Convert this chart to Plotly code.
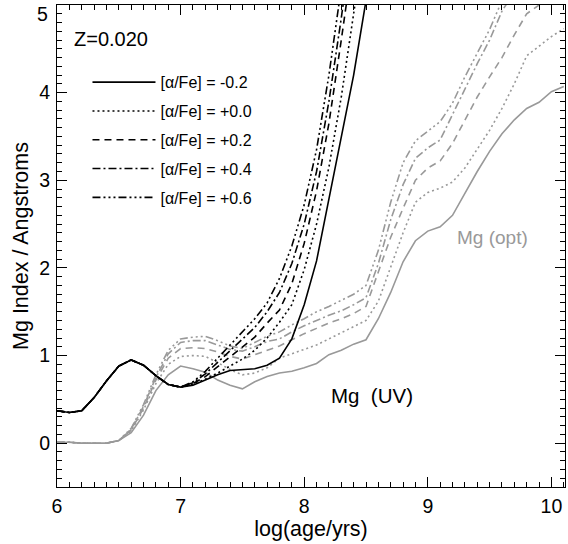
import plotly.graph_objects as go

log_age = [6.0, 6.1, 6.2, 6.3, 6.4, 6.5, 6.6, 6.7, 6.8, 6.9,
           7.0, 7.1, 7.2, 7.3, 7.4, 7.5, 7.6, 7.7, 7.8, 7.9,
           8.0, 8.1, 8.2, 8.3, 8.4, 8.5, 8.6, 8.7, 8.8, 8.9,
           9.0, 9.1, 9.2, 9.3, 9.4, 9.5, 9.6, 9.7, 9.8, 9.9,
           10.0, 10.1]

alpha_labels = ["[α/Fe] = -0.2", "[α/Fe] = +0.0", "[α/Fe] = +0.2",
                "[α/Fe] = +0.4", "[α/Fe] = +0.6"]

y_tick_vals = [0, 1, 2, 3, 4, 5]
y_tick_text = ["0", "1", "2", "3", "4", ""]
top_y_label = "5"

N = None
# Mg (UV) index, black curves
uv_m02 = [0.37, 0.35, 0.37, 0.52, 0.71, 0.88, 0.95, 0.89, 0.77, 0.67,
          0.64, 0.66, 0.72, 0.78, 0.83, 0.84, 0.85, 0.89, 0.97, 1.19,
          1.58, 2.08, 2.78, 3.47, 4.20, 5.05, 5.90, N, N, N,
          N, N, N, N, N, N, N, N, N, N, N, N]
uv_p00 = [0.37, 0.35, 0.37, 0.52, 0.71, 0.88, 0.95, 0.89, 0.77, 0.67,
          0.64, 0.67, 0.73, 0.80, 0.88, 0.96, 1.06, 1.20, 1.38, 1.58,
          1.98, 2.50, 3.15, 3.95, 4.90, 5.90, N, N, N, N,
          N, N, N, N, N, N, N, N, N, N, N, N]
uv_p02 = [0.37, 0.35, 0.37, 0.52, 0.71, 0.88, 0.95, 0.89, 0.77, 0.67,
          0.64, 0.68, 0.76, 0.87, 0.98, 1.09, 1.21, 1.37, 1.52, 1.82,
          2.28, 2.88, 3.65, 4.60, 5.60, N, N, N, N, N,
          N, N, N, N, N, N, N, N, N, N, N, N]
uv_p04 = [0.37, 0.35, 0.37, 0.52, 0.71, 0.88, 0.95, 0.89, 0.77, 0.67,
          0.64, 0.69, 0.79, 0.92, 1.05, 1.18, 1.32, 1.50, 1.72, 2.05,
          2.50, 3.10, 3.90, 4.85, 5.90, N, N, N, N, N,
          N, N, N, N, N, N, N, N, N, N, N, N]
uv_p06 = [0.37, 0.35, 0.37, 0.52, 0.71, 0.88, 0.95, 0.89, 0.77, 0.67,
          0.64, 0.70, 0.82, 0.97, 1.12, 1.26, 1.42, 1.60, 1.88, 2.25,
          2.72, 3.35, 4.20, 5.20, N, N, N, N, N, N,
          N, N, N, N, N, N, N, N, N, N, N, N]

# Mg (opt) index, grey curves
opt_m02 = [0.01, 0.01, 0.00, 0.00, 0.00, 0.03, 0.12, 0.32, 0.60, 0.78,
           0.88, 0.85, 0.81, 0.72, 0.66, 0.62, 0.70, 0.76, 0.80, 0.82,
           0.86, 0.91, 1.01, 1.06, 1.13, 1.18, 1.42, 1.72, 2.07, 2.31,
           2.42, 2.47, 2.60, 2.85, 3.10, 3.33, 3.53, 3.69, 3.82, 3.89,
           4.01, 4.07]
opt_p00 = [0.01, 0.01, 0.00, 0.00, 0.00, 0.03, 0.14, 0.38, 0.68, 0.90,
           0.99, 1.00, 0.99, 0.92, 0.84, 0.78, 0.80, 0.86, 0.97, 1.02,
           1.07, 1.12, 1.19, 1.26, 1.33, 1.40, 1.62, 2.00, 2.40, 2.75,
           2.86, 2.91, 2.98, 3.14, 3.36, 3.57, 3.82, 4.10, 4.42, 4.53,
           4.64, 4.73]
opt_p02 = [0.01, 0.01, 0.00, 0.00, 0.00, 0.03, 0.15, 0.40, 0.72, 0.97,
           1.08, 1.09, 1.08, 1.04, 0.99, 0.96, 1.01, 1.06, 1.11, 1.18,
           1.25, 1.31, 1.37, 1.42, 1.48, 1.56, 1.95, 2.35, 2.68, 3.00,
           3.14, 3.22, 3.42, 3.68, 3.95, 4.18, 4.40, 4.66, 4.90, 5.00,
           5.08, 5.15]
opt_p04 = [0.01, 0.01, 0.00, 0.00, 0.00, 0.03, 0.16, 0.42, 0.75, 1.02,
           1.15, 1.17, 1.17, 1.12, 1.07, 1.05, 1.10, 1.16, 1.19, 1.27,
           1.34, 1.40, 1.46, 1.51, 1.58, 1.66, 2.05, 2.55, 2.95, 3.25,
           3.37, 3.46, 3.75, 4.05, 4.33, 4.60, 4.93, 5.15, 5.30, N,
           N, N]
opt_p06 = [0.01, 0.01, 0.00, 0.00, 0.00, 0.03, 0.17, 0.44, 0.78, 1.06,
           1.19, 1.21, 1.22, 1.17, 1.11, 1.08, 1.15, 1.22, 1.27, 1.35,
           1.42, 1.50, 1.56, 1.63, 1.70, 1.80, 2.20, 2.75, 3.20, 3.45,
           3.56, 3.67, 3.88, 4.18, 4.45, 4.72, 5.05, 5.30, N, N,
           N, N]

uv_series = [uv_m02, uv_p00, uv_p02, uv_p04, uv_p06]
opt_series = [opt_m02, opt_p00, opt_p02, opt_p04, opt_p06]
dashes = ["solid", "2px,3px", "7px,5px", "8px,3px,2px,3px",
          "8px,3px,2px,3px,2px,3px,2px,3px"]

GREY = "#999999"
fig = go.Figure()

for i, ys in enumerate(opt_series):
    fig.add_trace(go.Scatter(x=log_age, y=ys, mode="lines",
                             line=dict(color=GREY, width=1.6, dash=dashes[i]),
                             showlegend=False, hoverinfo="skip"))

for i, ys in enumerate(uv_series):
    fig.add_trace(go.Scatter(x=log_age, y=ys, mode="lines", name=alpha_labels[i],
                             legendgroup="g%d" % i,
                             line=dict(color="black", width=1.6, dash=dashes[i])))

FONT = "Liberation Sans, Arial, Helvetica, sans-serif"
TICK_SIZE = 19.5

axis_common = dict(
    showline=True, linecolor="black", linewidth=1, mirror="ticks",
    ticks="inside", ticklen=10, tickwidth=1, tickcolor="black",
    showgrid=False, zeroline=False,
    tickfont=dict(family=FONT, size=TICK_SIZE, color="black"),
    minor=dict(dtick=0.1, ticks="inside", ticklen=5, tickcolor="black", showgrid=False),
)

fig.update_xaxes(range=[6, 10.11], dtick=1, tick0=6, ticklabelstandoff=2,
                 title=dict(text="log(age/yrs)", font=dict(family=FONT, size=21.5, color="black"),
                            standoff=1),
                 **axis_common)
fig.update_yaxes(range=[-0.5, 5], tickmode="array", tickvals=y_tick_vals, ticktext=y_tick_text,
                 ticklabelstandoff=2,
                 title=dict(text="Mg Index / Angstroms", font=dict(family=FONT, size=21.5, color="black"),
                            standoff=4),
                 **axis_common)

fig.add_annotation(x=-0.013, y=4.9, xref="paper", yref="y", text=top_y_label, showarrow=False,
                   xanchor="right", yanchor="middle",
                   font=dict(family=FONT, size=TICK_SIZE, color="black"))
fig.add_annotation(x=6.12, y=4.61, xref="x", yref="y", text="Z=0.020", showarrow=False,
                   xanchor="left", yanchor="middle", font=dict(family=FONT, size=20, color="black"))
fig.add_annotation(x=8.20, y=0.54, xref="x", yref="y", text="Mg  (UV)", showarrow=False,
                   xanchor="left", yanchor="middle", font=dict(family=FONT, size=20.5, color="black"))
fig.add_annotation(x=9.22, y=2.35, xref="x", yref="y", text="Mg (opt)", showarrow=False,
                   xanchor="left", yanchor="middle", font=dict(family=FONT, size=19, color=GREY))

fig.update_layout(
    width=568, height=544,
    margin=dict(l=57, r=3, t=5, b=57),
    paper_bgcolor="white", plot_bgcolor="white",
    font=dict(family=FONT, color="black"),
    legend=dict(x=0.06, y=0.875, xanchor="left", yanchor="top",
                bgcolor="rgba(0,0,0,0)", font=dict(family=FONT, size=16, color="black"),
                traceorder="grouped", tracegroupgap=5, itemwidth=63),
)

fig.write_html("out.html")
